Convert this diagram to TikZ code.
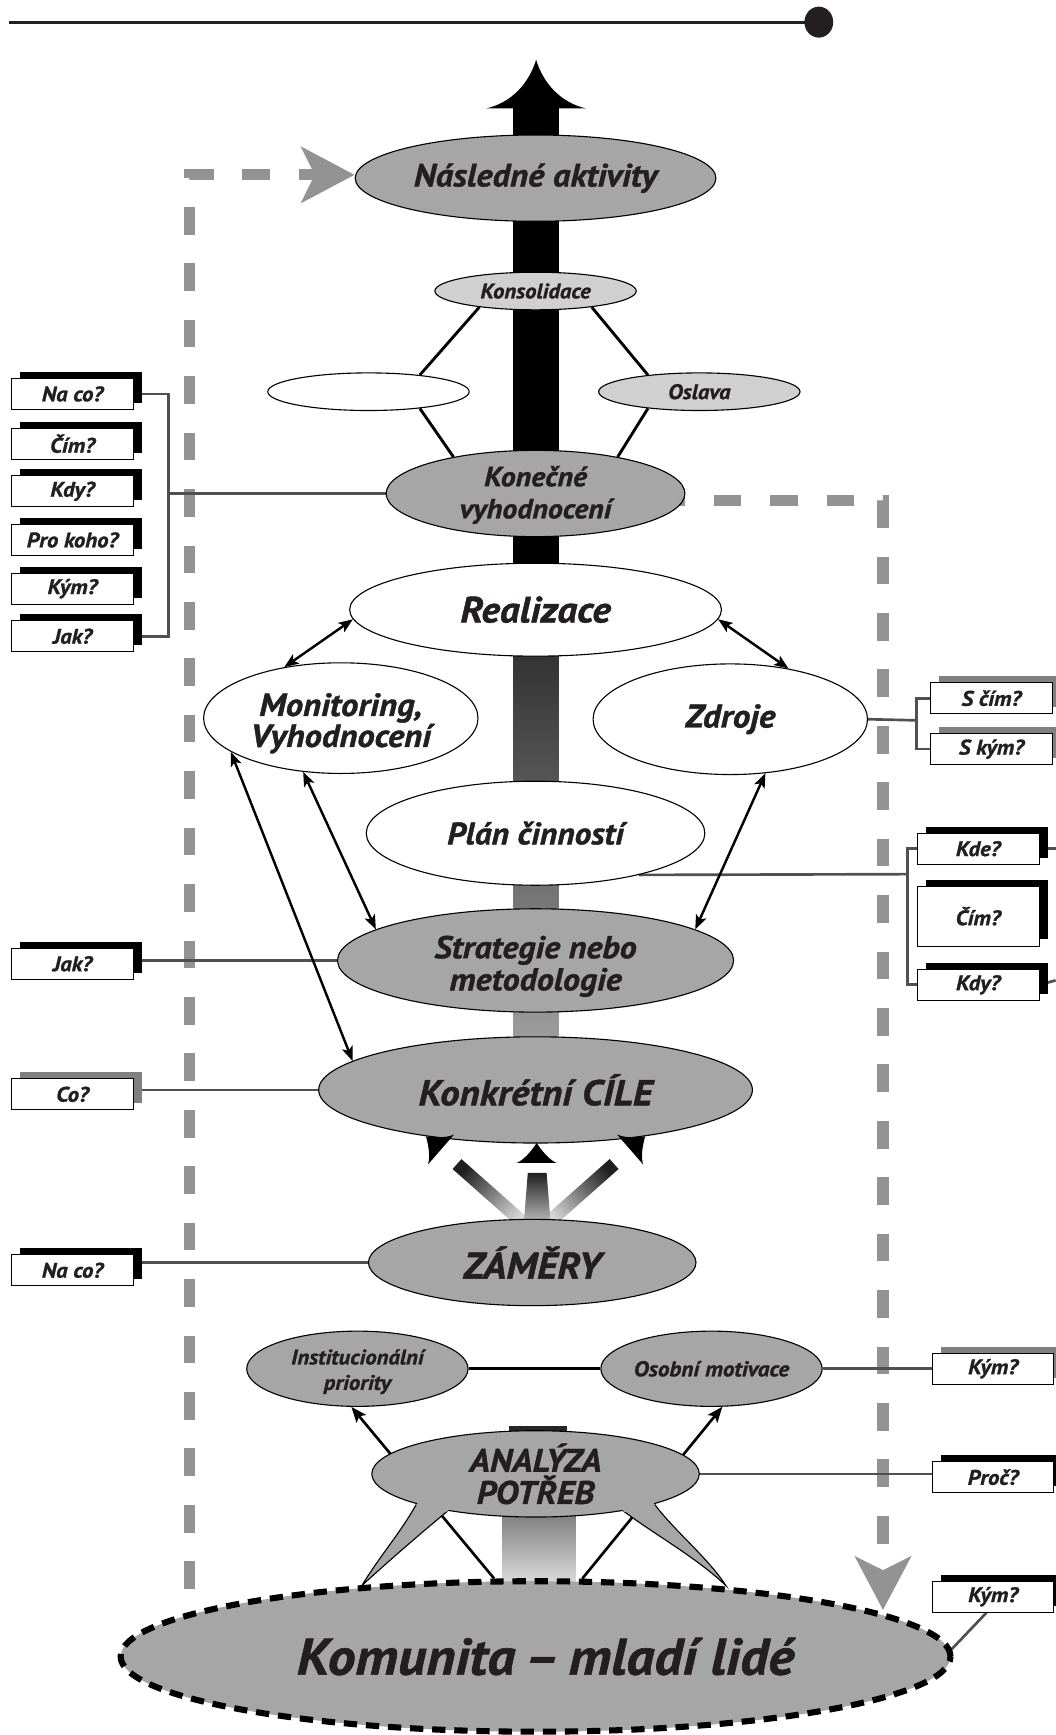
\documentclass[tikz,border=0pt]{standalone}
\usepackage{fontspec}
\setmainfont{PT Sans}[BoldItalicFeatures={FakeStretch=1.08, FakeBold=1.2}]
\usetikzlibrary{shapes.geometric,arrows.meta,shadows,calc}
\pgfdeclarelayer{back}
\pgfsetlayers{back,main}
\newcommand{\myfs}[2]{\fontsize{#1}{#2}\selectfont\bfseries\itshape}
\definecolor{txt}{HTML}{231F20}
\definecolor{ellgray}{HTML}{A6A6A6}
\definecolor{elllight}{HTML}{D0D0D0}
\definecolor{dashgray}{HTML}{939393}
\definecolor{conngray}{HTML}{505050}
\definecolor{shadegray}{HTML}{808080}
\tikzset{
  ell/.style={ellipse, draw=black, line width=1pt, inner sep=0pt, text=txt, align=center},
  grayell/.style={ell, fill=ellgray},
  lightell/.style={ell, fill=elllight},
  whiteell/.style={ell, fill=white},
  qbox/.style={draw=black, line width=0.9pt, fill=white, minimum width=110pt, minimum height=28pt, inner sep=0pt, text=txt, font={\myfs{19}{21}}},
  blackshadow/.style={drop shadow={shadow xshift=8pt, shadow yshift=6pt, fill=black, opacity=1}},
  grayshadow/.style={drop shadow={shadow xshift=8pt, shadow yshift=6pt, fill=shadegray, opacity=1}},
  conn/.style={draw=conngray, line width=2.4pt},
  graydash/.style={draw=dashgray, line width=10pt, dash pattern=on 25pt off 26pt},
  biarrow/.style={draw=black, line width=2.2pt, {Stealth[length=13pt,width=10pt,inset=3pt]}-{Stealth[length=13pt,width=10pt,inset=3pt]}},
  uparrow/.style={draw=black, line width=2.4pt, -{Stealth[length=14pt,width=11pt,inset=3pt]}},
  blk/.style={draw=black, line width=2.6pt},
  bigtip/.style={-{Stealth[length=48pt,width=50pt,inset=12pt]}},
  pics/conehead/.style 2 args={code={
    \fill[black] (0,0) .. controls ({-0.15*#1},{0.5*#2}) and ({-0.5*#1},{0.88*#2}) .. ({-#1},{#2})
      -- ({#1},{#2}) .. controls ({0.5*#1},{0.88*#2}) and ({0.15*#1},{0.5*#2}) .. (0,0) -- cycle;}},
  pics/smallhead/.style 2 args={code={
    \fill[black] (0,0) .. controls ({-0.3*#1},{0.45*#2}) and ({-0.65*#1},{0.85*#2}) .. ({-#1},{#2})
      -- ({#1},{#2}) .. controls ({0.65*#1},{0.85*#2}) and ({0.3*#1},{0.45*#2}) .. (0,0) -- cycle;}}
}
\begin{document}
\begin{tikzpicture}[x=1pt,y=-1pt]
\useasboundingbox (0,0) rectangle (954,1568);
\begin{pgfonlayer}{back}
\fill[white] (0,0) rectangle (954,1568);
\end{pgfonlayer}

% top line
\node[ellipse, fill=txt, minimum width=26pt, minimum height=28pt, inner sep=0pt] (topdot) at (740,20) {};
\coordinate (topstart) at (8,20);
\draw[draw=txt, line width=2.6pt] (topstart) -- (topdot.center);

% spikes of the needs analysis
\def\spikeL{(385,1350) -- (376,1360) .. controls (362,1385) and (342,1408) .. (327,1433) .. controls (352,1410) and (380,1386) .. (404,1366) -- (415,1355) -- cycle}
\def\spikeR{(553,1355) -- (564,1366) .. controls (592,1387) and (630,1408) .. (656,1433) .. controls (640,1408) and (610,1384) .. (592,1360) -- (583,1350) -- cycle}
\filldraw[fill=ellgray, draw=black, line width=1pt] \spikeL;
\filldraw[fill=ellgray, draw=black, line width=1pt] \spikeR;

% ellipses
\node[grayell, minimum width=326pt, minimum height=78pt, font={\myfs{29}{31}}] (nasledne) at (484,161) {Následné aktivity};
\node[lightell, minimum width=182pt, minimum height=34pt, font={\myfs{19}{20}}] (konsol) at (484,263) {Konsolidace};
\node[whiteell, minimum width=182pt, minimum height=34pt] (blank) at (333,354) {};
\node[lightell, minimum width=182pt, minimum height=34pt, font={\myfs{19}{20}}] (oslava) at (632,354) {Oslava};
\node[grayell, minimum width=270pt, minimum height=67pt, font={\myfs{25}{29}}] (konecne) at (484,446) {\rule{0pt}{21pt}Konečné\\vyhodnocení};
\node[whiteell, minimum width=336pt, minimum height=84pt, font={\myfs{33}{35}}] (realizace) at (484,551) {Realizace};
\node[whiteell, minimum width=248pt, minimum height=100pt, font={\myfs{29}{28}}] (monitoring) at (308,649) {\rule{0pt}{30pt}Monitoring,\\Vyhodnocení};
\node[whiteell, minimum width=248pt, minimum height=100pt, font={\myfs{29.5}{31}}] (zdroje) at (660,650) {Zdroje};
\node[whiteell, minimum width=306pt, minimum height=94pt, font={\myfs{28}{30}}] (plan) at (484,753) {Plán činností};
\node[grayell, minimum width=358pt, minimum height=88pt, font={\myfs{28.5}{29}}] (strategie) at (484,868) {\rule{0pt}{31pt}Strategie nebo\\metodologie};
\node[grayell, minimum width=392pt, minimum height=96pt, font={\myfs{32.5}{34}}] (cile) at (484,985) {Konkrétní CÍLE};
\node[grayell, minimum width=296pt, minimum height=78pt, font={\myfs{33.5}{35}}] (zamery) at (481,1141) {ZÁMĚRY};
\node[grayell, minimum width=200pt, minimum height=68pt, font={\myfs{19}{23}}] (inst) at (323,1237) {\rule{0pt}{19pt}Institucionální\\priority};
\node[grayell, minimum width=200pt, minimum height=68pt, font={\myfs{19.4}{21}}] (osobni) at (643,1237) {Osobní motivace};
\node[grayell, minimum width=296pt, minimum height=78pt, font={\myfs{29.4}{29}}] (analyza) at (484,1332) {ANALÝZA\\POTŘEB};
\begin{scope}
\clip (484,1332) ellipse [x radius=148.8, y radius=40.8];
\fill[ellgray] \spikeL;
\fill[ellgray] \spikeR;
\end{scope}
\node[ell, fill=ellgray, line width=5.5pt, dash pattern=on 12pt off 8pt, minimum width=750pt, minimum height=136pt, font={\myfs{46.5}{50}}] (komunita) at (484,1497) {\hspace{18pt}Komunita\hspace{0.18em}–\hspace{0.18em}mladí lidé};

% question boxes
\node[qbox, blackshadow] (na1) at (65.5,356) {Na co?};
\node[qbox, blackshadow] (cim1) at (65.5,401) {Čím?};
\node[qbox, blackshadow] (kdy1) at (65.5,444) {Kdy?};
\node[qbox, blackshadow] (pro1) at (65.5,488) {Pro koho?};
\node[qbox, blackshadow] (kym1) at (65.5,532) {Kým?};
\node[qbox, blackshadow] (jak1) at (65.5,575) {Jak?};
\node[qbox, blackshadow] (jak2) at (65.5,871) {Jak?};
\node[qbox, grayshadow] (co) at (65.5,989) {Co?};
\node[qbox, blackshadow] (naco2) at (65.5,1148) {Na co?};
\node[qbox, grayshadow] (scim) at (896,631) {S čím?};
\node[qbox, grayshadow] (skym) at (896,677) {S kým?};
\node[qbox, blackshadow] (kde) at (884,767) {Kde?};
\node[qbox, blackshadow, minimum height=54pt] (cim2) at (884,828) {Čím?};
\node[qbox, blackshadow] (kdy2) at (884,890) {Kdy?};
\node[qbox, grayshadow] (kym2) at (897.5,1237) {Kým?};
\node[qbox, blackshadow] (proc) at (897.5,1335) {Proč?};
\node[qbox, blackshadow] (kym3) at (897.5,1443) {Kým?};

\coordinate (lb) at (152,446);
\coordinate (rb) at (820,790);
\coordinate (zb) at (828,651);
\coordinate (kdeE) at (954,767);
\coordinate (kdyE) at (954,886);
\coordinate (rtip) at (798,1455);
\coordinate (lfoot) at (171,1475);

\begin{pgfonlayer}{back}
% gray dashed feedback paths
\draw[graydash, bigtip, dash phase=12pt] (lfoot) |- ([yshift=3pt]nasledne.west);
\draw[graydash, bigtip, dash phase=-8pt] ([yshift=-6pt]konecne.center) -| (rtip);
% central bar
\pic at (484.5,54) {conehead={45}{44}};
\fill[black] (464,97) rectangle (505,594);
\shade[top color=black!80, bottom color=black!38] (464,592) rectangle (505,945);
% bars from aims to objectives
\shade[top color=black!88, bottom color=black!15, shading angle=49] (478,1101.5) -- (470,1110.5) -- (409,1056.5) -- (417,1047.5) -- cycle;
\shade[top color=black!88, bottom color=black!15, shading angle=-49] (490,1101.5) -- (498,1110.5) -- (559,1056.5) -- (551,1047.5) -- cycle;
\shade[top color=black!88, bottom color=black!20] (473,1110) -- (498,1110) -- (494,1060) -- (477,1060) -- cycle;
% bar under the needs analysis
\fill[black!85] (460,1289) rectangle (512,1300);
\shade[top color=black!55, bottom color=black!12] (454,1360) rectangle (520,1434);
% arrows from the community
\draw[uparrow] (komunita.118.7) -- (inst.261.6);
\draw[uparrow] (komunita.59.4) -- (osobni.286.4);
% connectors to question boxes
\draw[conn] (na1.east) -| (lb) |- (jak1.east);
\draw[conn] (lb) -- (konecne.west);
\draw[conn] (zdroje.east) -- (zb);
\draw[conn] (scim.west) -| (zb) |- (skym.west);
\draw[conn] (plan.338) -- (rb);
\draw[conn] (kde.west) -| (rb) |- (kdy2.west);
\draw[conn] (kde.east) -- (kdeE);
\draw[conn] (kdy2.east) -- (kdyE);
\draw[conn] (jak2.east |- strategie.west) -- (strategie.west);
\draw[conn] (co.east |- cile.west) -- (cile.west);
\draw[conn] (naco2.east |- zamery.west) -- (zamery.west);
\draw[conn] (osobni.east) -- (kym2.west |- osobni.east);
\draw[conn] (analyza.east) -- (proc.west |- analyza.east);
\draw[conn] ([xshift=-6pt]kym3.south) -- (komunita.1.2);
\end{pgfonlayer}

% diamond around the final evaluation
\draw[blk] (konsol.196) -- (blank.18);
\draw[blk] (blank.342) -- (konecne.156);
\draw[blk] (konsol.344) -- (oslava.162);
\draw[blk] (oslava.198) -- (konecne.24);
\draw[blk] (inst) -- (osobni);

% double arrows
\draw[biarrow] (realizace.183) -- (monitoring.138);
\draw[biarrow] (realizace.357) -- (zdroje.41);
\draw[biarrow] (monitoring.197) -- (cile.171);
\draw[biarrow] (monitoring.235) -- (strategie.169);
\draw[biarrow] (zdroje.303) -- (strategie.11);

% arrowheads into the objectives
\pic[rotate=49] at (385,1027) {smallhead={18}{18}};
\pic at (485,1033) {smallhead={18}{18}};
\pic[rotate=-49] at (583,1027) {smallhead={18}{18}};
\end{tikzpicture}
\end{document}
